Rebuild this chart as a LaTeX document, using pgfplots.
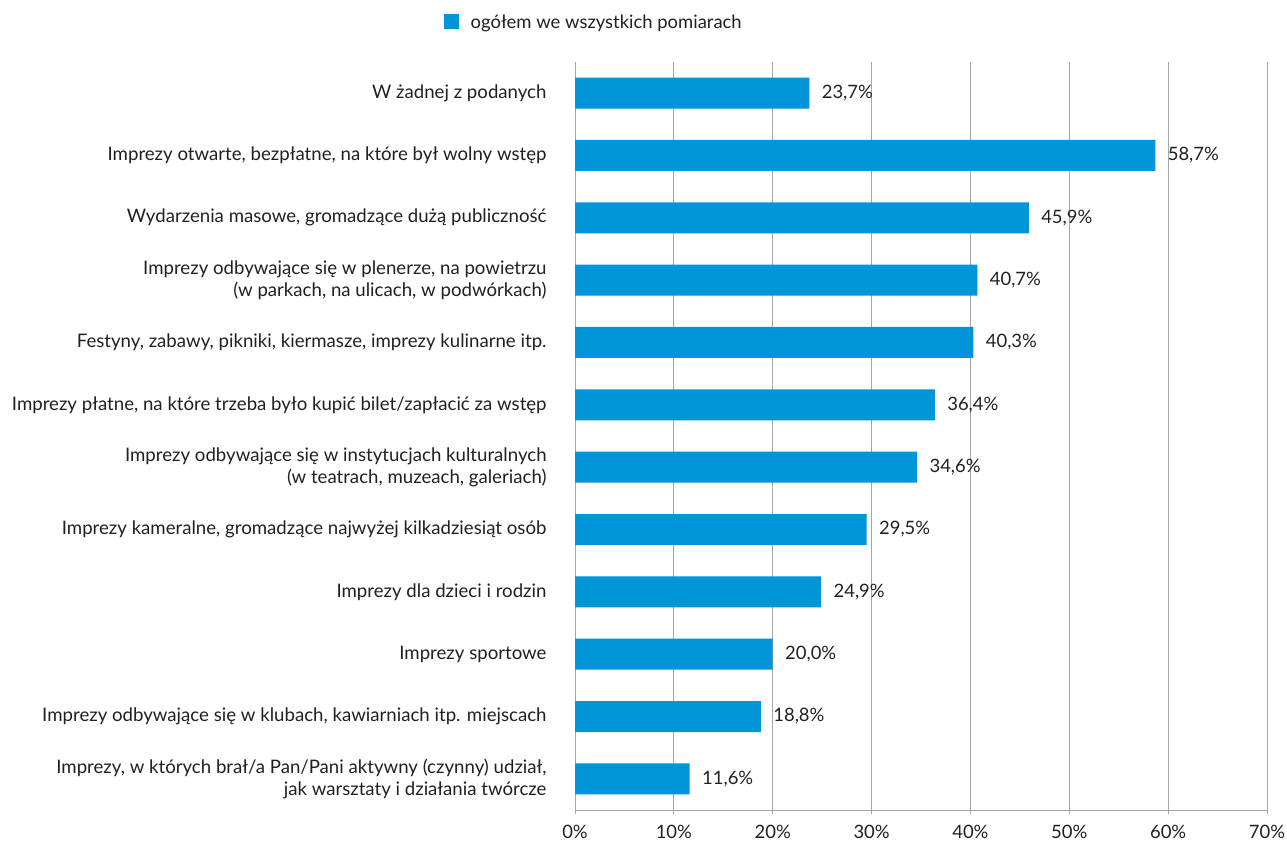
\documentclass[border=0pt]{standalone}
\usepackage{fontspec}
\setmainfont{Lato}
\usepackage{pgfplots}
\pgfplotsset{compat=1.18}
\definecolor{barblue}{HTML}{0094D8}
\definecolor{txt}{HTML}{231F20}
\definecolor{gridc}{HTML}{A6A6A6}
\begin{document}
\begin{tikzpicture}[x=1bp,y=1bp]
\useasboundingbox (0,0) rectangle (1287,844);
\begin{axis}[
  at={(575bp,34bp)}, anchor=south west,
  scale only axis, width=692bp, height=748bp,
  xbar, bar width=31bp,
  xmin=0, xmax=70, ymin=-0.5, ymax=11.5, y dir=reverse,
  axis x line*=bottom, axis y line*=left,
  x axis line style={gridc, line width=0.8pt},
  y axis line style={draw=none},
  xtick={0,10,...,70},
  xticklabels={0\%,10\%,20\%,30\%,40\%,50\%,60\%,70\%},
  xmajorgrids, grid style={gridc, line width=0.8pt},
  tick align=outside, major tick length=4bp,
  xtick style={gridc, line width=0.8pt},
  ytick style={draw=none},
  ytick={0,...,11},
  yticklabels={
    {W żadnej z podanych},
    {Imprezy otwarte, bezpłatne, na które był wolny wstęp},
    {Wydarzenia masowe, gromadzące dużą publiczność},
    {Imprezy odbywające się w plenerze, na powietrzu\\(w parkach, na ulicach, w podwórkach)},
    {Festyny, zabawy, pikniki, kiermasze, imprezy kulinarne itp.},
    {Imprezy płatne, na które trzeba było kupić bilet/zapłacić za wstęp},
    {Imprezy odbywające się w instytucjach kulturalnych\\(w teatrach, muzeach, galeriach)},
    {Imprezy kameralne, gromadzące najwyżej kilkadziesiąt osób},
    {Imprezy dla dzieci i rodzin},
    {Imprezy sportowe},
    {Imprezy odbywające się w klubach, kawiarniach itp. miejscach},
    {Imprezy, w których brał/a Pan/Pani aktywny (czynny) udział,\\jak warsztaty i działania twórcze}},
  yticklabel style={align=right, font=\fontsize{18.7}{22}\selectfont, text=txt, xshift=-21bp},
  xticklabel style={font=\fontsize{18.5}{20}\selectfont, text=txt, yshift=-8bp},
  /pgf/number format/assume math mode=true,
  nodes near coords={\pgfmathprintnumber[fixed,fixed zerofill,precision=1,use comma]{\pgfplotspointmeta}\%},
  point meta=x,
  every node near coord/.append style={font=\fontsize{18.5}{20}\selectfont, text=txt, xshift=9bp},
  legend style={draw=none, fill=none, at={(-0.19,1.0535)}, anchor=west, inner sep=0pt,
    font=\fontsize{18.5}{20}\selectfont, text=txt},
  legend image code/.code={\fill[barblue] (0bp,-7.5bp) rectangle (15bp,7.5bp);},
  clip=false,
]
\addplot[fill=barblue, draw=none] coordinates {
  (23.7,0) (58.7,1) (45.9,2) (40.7,3) (40.3,4) (36.4,5)
  (34.6,6) (29.5,7) (24.9,8) (20.0,9) (18.8,10) (11.6,11)
};
\addlegendentry{\hspace{10bp}ogółem we wszystkich pomiarach}
\end{axis}
\end{tikzpicture}
\end{document}
